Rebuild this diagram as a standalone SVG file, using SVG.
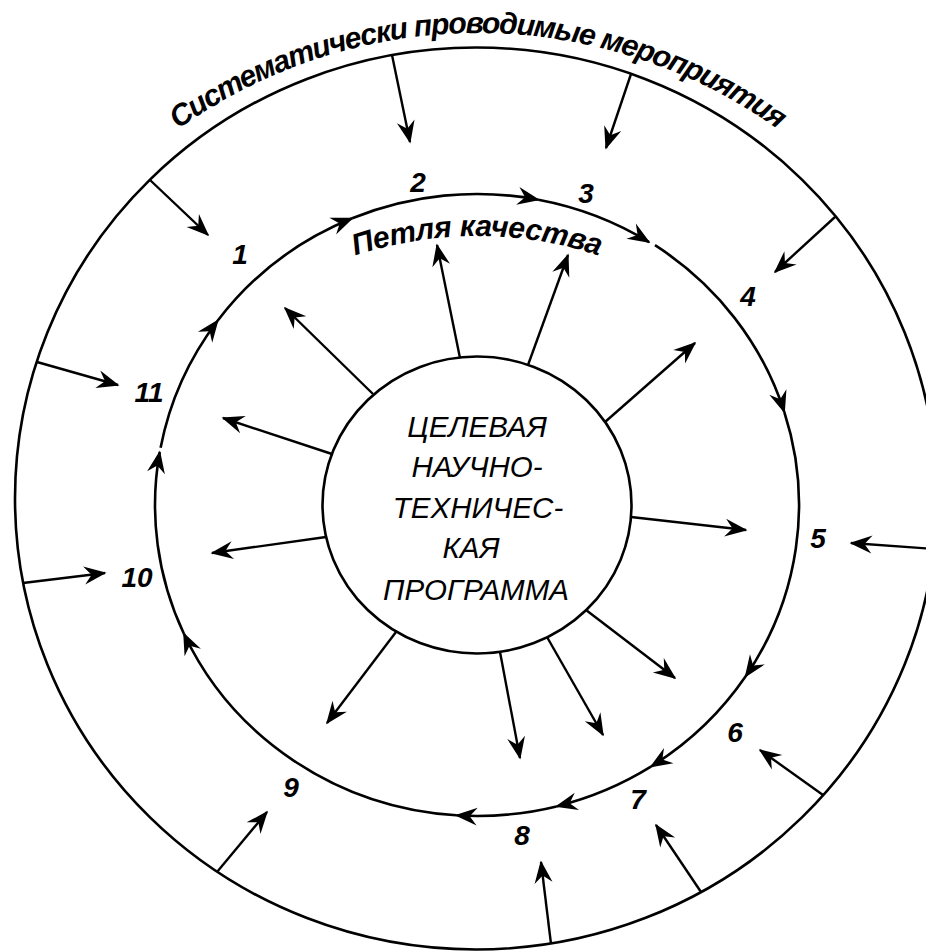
<svg xmlns="http://www.w3.org/2000/svg" width="926" height="952" viewBox="0 0 926 952">
  <defs>
    <marker id="arrow" viewBox="-24 -11 26 22" refX="0" refY="0" markerWidth="26" markerHeight="22" markerUnits="userSpaceOnUse" orient="auto">
      <path d="M1.5,0 L-21,-9 L-13.5,0 L-21,9 Z" fill="#000"/>
    </marker>
    <path id="title-arc" d="M150,151 A515,515 0 0 1 806,151"/>
    <path id="loop-label-arc" d="M340,261 A388,388 0 0 1 614,261"/>
  </defs>
  <style>
    .ring { fill: none; stroke: #000; stroke-width: 2.6; }
    .conn { fill: none; stroke: #000; stroke-width: 2.4; marker-end: url(#arrow); }
    .loop { fill: none; stroke: #000; stroke-width: 2.6; marker-end: url(#arrow); }
    .title { font-family: "Liberation Sans", Arial, sans-serif; font-style: italic; font-weight: bold; font-size: 30px; fill: #000; }
    .loop-label { font-family: "Liberation Sans", Arial, sans-serif; font-style: italic; font-weight: bold; font-size: 30px; fill: #000; }
    .num { font-family: "Liberation Sans", Arial, sans-serif; font-style: italic; font-weight: bold; font-size: 28px; fill: #000; text-anchor: middle; }
    .prog { font-family: "Liberation Sans", Arial, sans-serif; font-style: italic; font-size: 29.5px; fill: #000; text-anchor: middle; }
  </style>
  <rect width="926" height="952" fill="#fff"/>

  <!-- outer ring: systematic measures -->
  <g id="outer-ring">
    <ellipse class="ring" cx="476" cy="498.5" rx="461" ry="451"/>
    <text class="title"><textPath href="#title-arc" startOffset="50%" text-anchor="middle" textLength="640" lengthAdjust="spacing">Систематически проводимые мероприятия</textPath></text>
  </g>

  <!-- quality loop label -->
  <g id="quality-loop">
    <text class="loop-label"><textPath href="#loop-label-arc" startOffset="50%" text-anchor="middle" textLength="248" lengthAdjust="spacing">Петля качества</textPath></text>
  </g>

  <!-- central programme -->
  <g id="program">
    <ellipse class="ring" cx="477" cy="505" rx="154.5" ry="148.5"/>
    <text class="prog" x="477" y="437">ЦЕЛЕВАЯ</text>
    <text class="prog" x="477" y="477">НАУЧНО-</text>
    <text class="prog" x="478" y="518">ТЕХНИЧЕС-</text>
    <text class="prog" x="471" y="558">КАЯ</text>
    <text class="prog" x="476" y="600">ПРОГРАММА</text>
  </g>

  <!-- stage numbers -->
  <g id="stage-1"><text class="num" x="240" y="264">1</text></g>
  <g id="stage-2"><text class="num" x="418" y="192">2</text></g>
  <g id="stage-3"><text class="num" x="586" y="203">3</text></g>
  <g id="stage-4"><text class="num" x="748" y="306">4</text></g>
  <g id="stage-5"><text class="num" x="818" y="548">5</text></g>
  <g id="stage-6"><text class="num" x="735" y="742">6</text></g>
  <g id="stage-7"><text class="num" x="638" y="809">7</text></g>
  <g id="stage-8"><text class="num" x="522" y="845">8</text></g>
  <g id="stage-9"><text class="num" x="291" y="797">9</text></g>
  <g id="stage-10"><text class="num" x="137" y="587">10</text></g>
  <g id="stage-11"><text class="num" x="149" y="402">11</text></g>

  <g id="connectors">
    <!-- loop segments, clockwise -->
    <g id="loop-arcs">
      <path class="loop" d="M217.8,320.5 A322,311 0 0 1 352.2,218.3"/>
      <path class="loop" d="M352.2,218.3 A322,311 0 0 1 538.4,199.7"/>
      <path class="loop" d="M538.4,199.7 A322,311 0 0 1 649.1,242.1"/>
      <path class="loop" d="M655,245.2 A322,311 0 0 1 784.3,412"/>
      <path class="loop" d="M784.3,412 A322,311 0 0 1 745.5,676.6"/>
      <path class="loop" d="M745.5,676.6 A322,311 0 0 1 650.9,766.7"/>
      <path class="loop" d="M650.9,766.7 A322,311 0 0 1 556.5,806.4"/>
      <path class="loop" d="M556.5,806.4 A322,311 0 0 1 456.2,815.3"/>
      <path class="loop" d="M456.2,815.3 A322,311 0 0 1 183.8,633.5"/>
      <path class="loop" d="M183.8,633.5 A322,311 0 0 1 159.7,452.1"/>
      <path class="loop" d="M160.6,447.8 A322,311 0 0 1 217.8,320.5"/>
    </g>
    <!-- arrows from the programme outward -->
    <g id="radial-arrows">
      <line class="conn" x1="373" y1="394" x2="285" y2="308"/>
      <line class="conn" x1="460" y1="358" x2="437" y2="245"/>
      <line class="conn" x1="528" y1="365" x2="568" y2="255"/>
      <line class="conn" x1="605" y1="422" x2="695" y2="343"/>
      <line class="conn" x1="332" y1="454" x2="223" y2="418"/>
      <line class="conn" x1="326" y1="537" x2="212" y2="553"/>
      <line class="conn" x1="631" y1="517" x2="746" y2="530"/>
      <line class="conn" x1="586" y1="610" x2="675" y2="678"/>
      <line class="conn" x1="547" y1="637" x2="603" y2="735"/>
      <line class="conn" x1="500" y1="652" x2="520" y2="758"/>
      <line class="conn" x1="396" y1="632" x2="327" y2="723"/>
    </g>
    <!-- arrows from the outer ring inward to each stage -->
    <g id="inward-arrows">
      <line class="conn" x1="150" y1="180" x2="208" y2="235"/>
      <line class="conn" x1="392" y1="55" x2="410" y2="142"/>
      <line class="conn" x1="631" y1="74" x2="606" y2="148"/>
      <line class="conn" x1="835" y1="217" x2="775" y2="272"/>
      <line class="conn" x1="934" y1="549" x2="851" y2="543"/>
      <line class="conn" x1="823" y1="795" x2="760" y2="750"/>
      <line class="conn" x1="701" y1="892" x2="656" y2="825"/>
      <line class="conn" x1="551" y1="944" x2="541" y2="862"/>
      <line class="conn" x1="217" y1="872" x2="267" y2="812"/>
      <line class="conn" x1="23" y1="583" x2="105" y2="573"/>
      <line class="conn" x1="37" y1="362" x2="118" y2="385"/>
    </g>
  </g>
</svg>
